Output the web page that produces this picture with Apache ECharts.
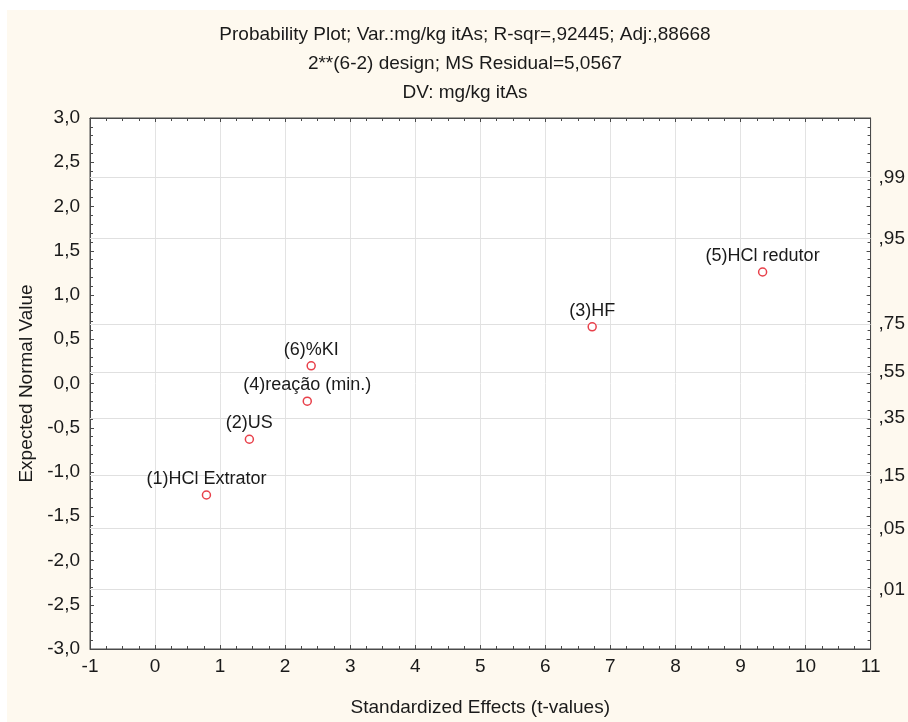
<!DOCTYPE html>
<html>
<head>
<meta charset="utf-8">
<script src="https://cdn.jsdelivr.net/npm/echarts@6/dist/echarts.min.js"></script>
<style>
html,body{margin:0;padding:0;background:#fff;}
#wrap{position:relative;width:908px;height:722px;background:#fff;}
#bg{position:absolute;left:7px;top:10px;right:0;bottom:0;background:#fef9ef;}
#chart{position:absolute;left:0;top:0;width:908px;height:722px;}
</style>
</head>
<body>
<div id="wrap"><div id="bg"></div><div id="chart"></div></div>
<script>
// Data
const effectNames = ['(1)HCl Extrator', '(2)US', '(4)reação (min.)', '(6)%KI', '(3)HF', '(5)HCl redutor'];
const tValues = [0.79, 1.45, 2.34, 2.40, 6.72, 9.34];
const expectedNormal = [-1.26, -0.63, -0.20, 0.20, 0.64, 1.26];
// Right-hand probability axis
const probLabels = [',99', ',95', ',75', ',55', ',35', ',15', ',05', ',01'];
const probPositions = [2.33, 1.64, 0.67, 0.13, -0.39, -1.04, -1.64, -2.33];
const titleLines = [
  'Probability Plot; Var.:mg/kg itAs; R-sqr=,92445; Adj:,88668',
  '2**(6-2) design; MS Residual=5,0567',
  'DV: mg/kg itAs'
];

const FONT = 'Liberation Sans, Arial, sans-serif';
const TXT = '#1a1a1a';
const AXC = '#4a4a4a';

const chart = echarts.init(document.getElementById('chart'), null, {renderer: 'canvas'});

const commaFmt = v => v.toFixed(1).replace('.', ',');

const tickCommon = {show: true, inside: true, length: 4, lineStyle: {color: AXC}};
const minorCommon = {show: true, length: 3, lineStyle: {color: AXC}};

chart.setOption({
  backgroundColor: 'transparent',
  animation: false,
  title: {
    text: titleLines.join('\n'),
    left: 460,
    top: 15,
    textAlign: 'center',
    textStyle: {fontFamily: FONT, fontSize: 19, fontWeight: 'normal', color: TXT, lineHeight: 29}
  },
  grid: {left: 90, right: 35, top: 118, bottom: 72, show: true, backgroundColor: '#ffffff', borderColor: AXC, borderWidth: 1},
  xAxis: [{
    type: 'value', min: -1, max: 11, interval: 1, position: 'bottom',
    name: 'Standardized Effects (t-values)', nameLocation: 'middle', nameGap: 49,
    nameTextStyle: {fontFamily: FONT, fontSize: 19, color: TXT},
    axisLine: {show: true, onZero: false, lineStyle: {color: AXC}},
    axisTick: tickCommon,
    minorTick: Object.assign({splitNumber: 4}, minorCommon),
    axisLabel: {fontFamily: FONT, fontSize: 19, color: TXT, margin: 8},
    splitLine: {show: true, lineStyle: {color: '#e3e3e3', width: 1}}
  }, {
    type: 'value', min: -1, max: 11, interval: 1, position: 'top',
    axisLine: {show: true, onZero: false, lineStyle: {color: AXC}},
    axisTick: tickCommon,
    minorTick: Object.assign({splitNumber: 4}, minorCommon),
    axisLabel: {show: false},
    splitLine: {show: false}
  }],
  yAxis: [{
    type: 'value', min: -3, max: 3, interval: 0.5, position: 'left',
    name: 'Expected Normal Value', nameLocation: 'middle', nameGap: 54,
    nameTextStyle: {fontFamily: FONT, fontSize: 19, color: TXT},
    axisLine: {show: true, onZero: false, lineStyle: {color: AXC}},
    axisTick: tickCommon,
    minorTick: Object.assign({splitNumber: 5}, minorCommon),
    axisLabel: {fontFamily: FONT, fontSize: 19, color: TXT, margin: 10, formatter: commaFmt},
    splitLine: {show: false}
  }, {
    type: 'value', min: -3, max: 3, interval: 0.5, position: 'right',
    axisLine: {show: true, onZero: false, lineStyle: {color: AXC}},
    axisTick: tickCommon,
    minorTick: Object.assign({splitNumber: 5}, minorCommon),
    axisLabel: {
      fontFamily: FONT, fontSize: 19, color: TXT, margin: 8,
      customValues: probPositions,
      formatter: v => {
        let best = 0;
        probPositions.forEach((p, i) => { if (Math.abs(p - v) < Math.abs(probPositions[best] - v)) best = i; });
        return probLabels[best];
      }
    },
    splitLine: {show: false}
  }],
  series: [{
    type: 'scatter',
    xAxisIndex: 0, yAxisIndex: 0,
    symbol: 'circle', symbolSize: 8,
    itemStyle: {color: '#ffffff', borderColor: '#e8404a', borderWidth: 1.5, opacity: 1},
    data: tValues.map((t, i) => ({value: [t, expectedNormal[i]], name: effectNames[i]})),
    label: {
      show: true, position: 'top', distance: 2,
      formatter: p => p.name,
      fontFamily: FONT, fontSize: 18, color: TXT
    },
    markLine: {
      silent: true, symbol: ['none', 'none'], animation: false,
      label: {show: false},
      lineStyle: {color: '#e0e0e0', width: 1, type: 'solid'},
      data: probPositions.map(v => ({yAxis: v}))
    },
    z: 5
  }]
});
</script>
</body>
</html>
